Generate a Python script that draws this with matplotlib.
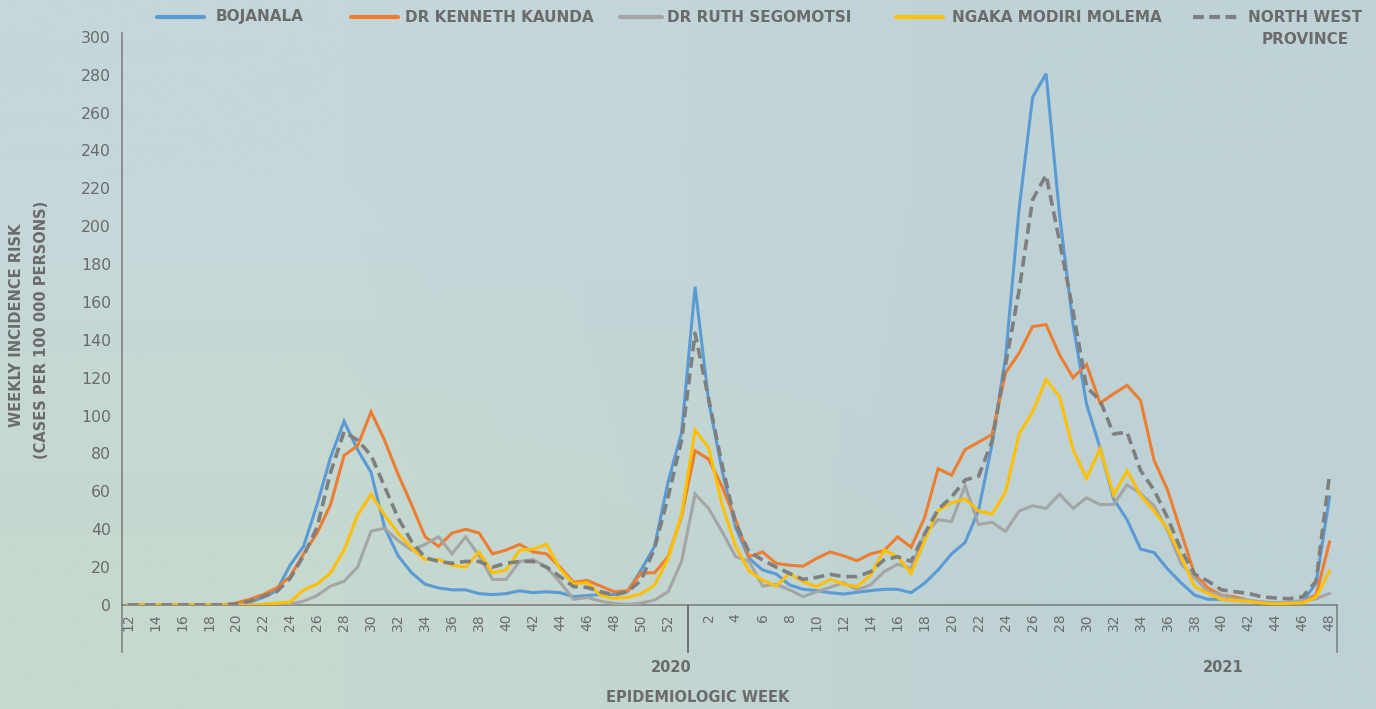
import numpy as np
import matplotlib
matplotlib.use("Agg")
import matplotlib.pyplot as plt
from matplotlib.lines import Line2D
import matplotlib.transforms as mtransforms

# ---------------- data ----------------
weeks_2020 = list(range(12, 54))   # epi weeks 12..53 of 2020
weeks_2021 = list(range(1, 49))    # epi weeks 1..48 of 2021
years = ["2020", "2021"]

bojanala = [0, 0, 0, 0, 0, 0, 0, 0, 0.5, 1.5, 4, 7.5, 21, 31, 53, 78, 97, 82, 70, 41,
            26, 17, 11, 9, 8, 8, 6, 5.5, 6, 7.5, 6.5, 7, 6.5, 4.4, 5, 5.5, 5.5, 7, 18.5, 31,
            65, 91, 168, 108, 71, 41, 24.6, 18.5, 16.4, 10.6, 8.3, 7.6, 6.5, 5.8, 6.7, 7.6, 8.3, 8.3, 6.5, 11.5,
            18.5, 27, 33, 50, 85, 131, 209, 268, 280.5, 206, 148, 106, 83, 56, 45, 29.5, 27.7, 19, 11.7, 5.2,
            3, 3, 2.4, 1.9, 1.5, 1.1, 1.1, 1.5, 11.7, 57]

kenneth_kaunda = [0, 0, 0, 0, 0, 0, 0, 0, 1, 3, 5.5, 9, 15, 27, 38, 53, 79, 84, 102, 87,
                  69, 53, 36, 31, 38, 40, 38, 27, 29, 32, 28, 27, 20, 12, 13, 10, 7, 7.5, 17, 17,
                  25.5, 47, 81.5, 77, 62.5, 45, 25.5, 28, 22, 21, 20.5, 24.6, 28, 26, 23.4, 27, 28.7, 36, 30.5, 46,
                  72, 68.5, 82, 86, 90, 122.6, 133, 147, 148, 132, 120, 127, 106.6, 111.5, 116, 108, 76.4, 60.7, 38.5, 16.3,
                  8.9, 5.2, 4.3, 2.4, 1.5, 0.6, 1.1, 1.9, 5.2, 33.3]

ruth_segomotsi = [0, 0, 0, 0, 0, 0, 0, 0, 0, 0, 0, 0, 0.5, 2, 5, 10, 12.5, 20, 39, 40.5,
                  34, 29, 32, 36, 27, 36, 26, 13.5, 13.5, 23, 24, 20, 12, 3, 4, 2, 0.8, 0.3, 1, 2.6,
                  7, 23, 58.6, 51, 38.7, 25.5, 23, 10, 11, 8, 4.4, 7, 9.3, 11.8, 8, 10.6, 17.6, 21.5, 19.4, 37.5,
                  45, 44, 63, 42.5, 43.7, 38.9, 49.6, 52.4, 51, 58.5, 51, 56.6, 53, 53, 63.5, 58.8, 52.4, 39.4, 21.8, 14.4,
                  7, 5.2, 3.3, 2.4, 1.5, 1.1, 1.5, 2.4, 3.3, 6.1]

ngaka_modiri_molema = [0, 0, 0, 0, 0, 0, 0, 0, 0, 0, 0.3, 1, 1.5, 8, 11, 17, 29, 47.5, 58.5, 47.5,
                       38, 30, 24, 24, 21, 20, 28, 17, 18.5, 29, 29.5, 32, 19, 11, 12, 5, 3.5, 4, 6, 10.5,
                       24.5, 48, 92.4, 83, 53, 31, 18, 13, 10, 16.7, 12.3, 9.7, 13.5, 11, 9.7, 15.8, 29, 25.5, 16.7, 34,
                       50, 54, 56, 49.6, 48, 59.8, 90.3, 102, 119, 110, 82, 67, 82.5, 58, 70.9, 58, 49.6, 40.3, 25.5, 9.8,
                       6.1, 3, 2.4, 1.9, 1.1, 0.6, 0.9, 1.1, 4.3, 18]

north_west = [0, 0, 0, 0, 0, 0, 0, 0, 0.5, 2, 4.5, 7, 14, 26, 41, 70, 91.5, 87, 79, 62.5,
              46, 33.5, 25, 23, 22, 23, 23, 20, 22, 23, 23, 20, 15, 9.7, 9.3, 7, 5.3, 7, 13, 30,
              57, 87, 143.5, 109, 74, 43, 28, 23.8, 20, 16.7, 13.5, 14.6, 16.2, 15, 15, 17.6, 23.8, 25.5, 23, 37.5,
              50.5, 57, 66, 68, 86.6, 127, 166, 214, 227, 192, 155, 115, 108, 90.3, 91.2, 71, 60.7, 46, 29.2, 16.3,
              12.6, 8, 7, 6.1, 4.3, 3.7, 3.3, 4.3, 12.6, 69]

series_names = ["BOJANALA", "DR KENNETH KAUNDA", "DR RUTH SEGOMOTSI",
                "NGAKA MODIRI MOLEMA", "NORTH WEST\nPROVINCE"]
series_colors = ["#5B9BD5", "#ED7D31", "#A5A5A5", "#FFC000", "#7F7F7F"]

# ---------------- figure ----------------
W, H = 1376, 709
fig = plt.figure(figsize=(W / 100, H / 100), dpi=100)

# soft gradient background
bg = fig.add_axes([0, 0, 1, 1], zorder=-10)
corners = np.array([[[197, 215, 219], [191, 211, 215]],
                    [[198, 217, 207], [190, 210, 213]]]) / 255.0
bg.imshow(corners, extent=[0, 1, 0, 1], aspect="auto", interpolation="bilinear")
bg.set_axis_off()

TXT = "#6b6b6b"
AXC = "#7a7a7a"

ax = fig.add_axes([122 / W, (H - 605) / H, (1337 - 122) / W, 572 / H])
ax.patch.set_alpha(0)

n2020 = len(weeks_2020)
labels_all = [str(w) for w in weeks_2020] + [str(w) for w in weeks_2021]
x = np.arange(len(labels_all))

data = [bojanala, kenneth_kaunda, ruth_segomotsi, ngaka_modiri_molema, north_west]
for vals, col, name in zip(data, series_colors, series_names):
    if name.startswith("NORTH"):
        ax.plot(x, vals, color=col, lw=2.6, linestyle=(0, (3, 1.6)), zorder=5)
    else:
        ax.plot(x, vals, color=col, lw=2.2, zorder=3, solid_joinstyle="miter")

ax.set_xlim(-0.45, len(x) - 0.45)
ax.set_ylim(0, 302)

# y axis
ax.set_yticks(range(0, 301, 20))
ax.tick_params(axis="y", length=0, pad=8, labelsize=11.3, labelcolor=TXT)

# x axis: label even weeks
tick_pos = [i for i, w in enumerate(weeks_2020) if w % 2 == 0 and w <= 52] + \
           [n2020 + i for i, w in enumerate(weeks_2021) if w % 2 == 0]
ax.set_xticks(tick_pos)
ax.set_xticklabels([labels_all[p] for p in tick_pos], rotation=90)
ax.tick_params(axis="x", length=0, pad=6, labelsize=10, labelcolor=TXT)

for s in ["top", "right"]:
    ax.spines[s].set_visible(False)
for s in ["left", "bottom"]:
    ax.spines[s].set_color(AXC)
    ax.spines[s].set_linewidth(1.1)

# multi-level category separators
ext = -47 / 572
for xv in [-0.45, n2020 - 0.5, len(x) - 0.45]:
    ax.axvline(xv, ymin=ext, ymax=0, color=AXC if xv != n2020 - 0.5 else "#555555",
               lw=1.1, clip_on=False)

trans = mtransforms.blended_transform_factory(ax.transData, ax.transAxes)
ax.text(40.2, -62 / 572, years[0], transform=trans, ha="center", va="center",
        fontsize=10.5, fontweight="bold", color=TXT)
ax.text(81.1, -62 / 572, years[1], transform=trans, ha="center", va="center",
        fontsize=10.5, fontweight="bold", color=TXT)

# axis titles
fig.text(698 / W, 1 - 698 / H, "EPIDEMIOLOGIC WEEK", ha="center", va="center",
         fontsize=10.5, fontweight="bold", color=TXT)
fig.text(17 / W, 1 - 325 / H, "WEEKLY INCIDENCE RISK", rotation=90, ha="center",
         va="center", fontsize=10.5, fontweight="bold", color=TXT)
fig.text(42 / W, 1 - 330 / H, "(CASES PER 100 000 PERSONS)", rotation=90, ha="center",
         va="center", fontsize=10.5, fontweight="bold", color=TXT)

# legend (manual, top)
leg_y = 1 - 17 / H
handles = [(157, 204, 216), (351, 398, 405), (620, 662, 667), (896, 943, 952), (1193, 1241, 1248)]
for (x0, x1, tx), col, name in zip(handles, series_colors, series_names):
    if name.startswith("NORTH"):
        fig.add_artist(Line2D([x0 / W, x1 / W], [leg_y, leg_y], color=col, lw=3,
                              linestyle=(0, (2.6, 1.3)), transform=fig.transFigure))
        first, second = name.split("\n")
        t = fig.text(tx / W, leg_y, first, ha="left", va="center", fontsize=11,
                     fontweight="bold", color=TXT)
        fig.text(1305 / W, 1 - 40 / H, second, ha="center", va="center", fontsize=11,
                 fontweight="bold", color=TXT)
    else:
        fig.add_artist(Line2D([x0 / W, x1 / W], [leg_y, leg_y], color=col, lw=3,
                              solid_capstyle="round", transform=fig.transFigure))
        fig.text(tx / W, leg_y, name, ha="left", va="center", fontsize=11,
                 fontweight="bold", color=TXT)

fig.savefig("out.png", dpi=100)
